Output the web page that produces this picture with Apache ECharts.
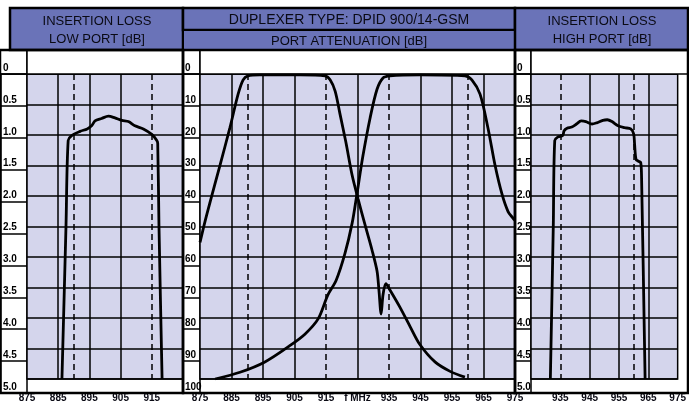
<!DOCTYPE html>
<html><head><meta charset="utf-8">
<script src="https://cdn.jsdelivr.net/npm/echarts@6/dist/echarts.min.js"></script>
<style>html,body{margin:0;padding:0;background:#fff}#c{width:689px;height:403px}</style>
</head><body><div id="c"></div>
<script>
// ---- data ----
const lowILFreq = [886.2, 887.5, 888.2, 889.3, 892.0, 894.3, 895.7, 896.8, 898.9, 901.1, 903.2, 905.4, 907.5, 909.6, 912.3, 915.0, 916.6, 916.9, 917.3, 918.3];
const lowILdB   = [5.0, 2.49, 1.09, 1.01, 0.94, 0.90, 0.85, 0.77, 0.73, 0.69, 0.72, 0.76, 0.78, 0.85, 0.90, 0.99, 1.09, 1.14, 2.49, 5.0];

const highILFreq = [931.6, 932.6, 933.1, 934.2, 935.8, 936.3, 937.3, 938.9, 940.5, 942.1, 943.7, 945.8, 947.4, 949.5, 951.0, 952.6, 954.7, 956.9, 959.0, 960.0, 960.3, 960.8, 961.6, 962.4, 962.7, 963.9];
const highILdB   = [5.0, 2.49, 1.09, 1.03, 1.01, 0.93, 0.89, 0.87, 0.82, 0.77, 0.78, 0.82, 0.80, 0.76, 0.75, 0.78, 0.85, 0.88, 0.90, 0.98, 1.14, 1.40, 1.43, 1.45, 1.71, 5.0];

const lowAttFreq = [875, 876.6, 878.2, 881.3, 884.5, 887.1, 888.7, 890.2, 894, 906.7, 914.7, 916.3, 917.9, 919.4, 921.3, 923.3, 925.2, 927.4, 929.6, 931.2, 931.8, 932.5, 933.1, 934.0, 935.3, 938.5, 941.7, 944.8, 949.6, 954.4, 959.1];
const lowAttdB   = [55.2, 48.3, 42, 30.1, 17.6, 6.6, 1.9, 0.6, 0.3, 0.3, 0.6, 1.9, 5.6, 12.9, 22.3, 33.2, 41, 49.5, 57.7, 64.6, 70.8, 78.7, 72.4, 68.7, 70.8, 76.5, 82.8, 88.7, 94.4, 97.5, 99.4];

const highAttFreq = [879.8, 887.7, 895.6, 903.6, 908.3, 912.5, 915.6, 918.2, 921.0, 923.3, 924.8, 926.7, 929.0, 931.2, 933.1, 935.3, 944.8, 959.1, 961.3, 963.9, 966.4, 968.7, 970.9, 972.8, 974.4, 975];
const highAttdB   = [100, 97.8, 94.4, 89, 85.3, 80.3, 72.4, 67.7, 58.9, 48.9, 39.5, 27, 14.4, 5, 1.3, 0.6, 0.3, 0.6, 1.9, 6.6, 17.6, 30.1, 39.5, 45.1, 47.3, 48];

// grid frequencies (solid) and band edges (dashed)
const gridLow = [885, 895, 905];
const edgesLow = [890, 915];
const gridMid = [885, 895, 905, 925, 945, 955, 965];
const edgesMid = [890, 915, 935, 960];
const gridHigh = [945, 955, 965];
const edgesHigh = [935, 960];

const headerLeft = ['INSERTION LOSS', 'LOW PORT [dB]'];
const headerMid = ['DUPLEXER TYPE: DPID 900/14-GSM', 'PORT ATTENUATION [dB]'];
const headerRight = ['INSERTION LOSS', 'HIGH PORT [dB]'];

// ---- chart ----
const HEADER = '#6a73b8', PLOT = '#d4d5ec', INK = '#0a0a14';
const zip = (a, b) => a.map((v, i) => [v, b[i]]);
const panels = [
  {L: 0, C: 27, R: 183, xmin: 875, xmax: 925, ymax: 5, step: 0.5, fmt: v => v === 0 ? '0' : v.toFixed(1),
   xfmt: v => v === 925 ? '' : String(v)},
  {L: 183, C: 200, R: 515, xmin: 875, xmax: 975, ymax: 100, step: 10, fmt: v => String(v),
   xfmt: v => v === 925 ? 'f MHz' : String(v)},
  {L: 515, C: 531, R: 688, xmin: 925, xmax: 975, ymax: 5, step: 0.5, fmt: v => v === 0 ? '0' : v.toFixed(1),
   xfmt: v => v === 925 ? '' : String(v)}
];
const TOP = 74, BOT = 393;
const grids = [], xAxes = [], yAxes = [];
panels.forEach(p => {
  grids.push({left: p.L, top: TOP, width: p.C - p.L, height: BOT - TOP, show: true, backgroundColor: '#fff', borderColor: '#000', borderWidth: 1.5});
  grids.push({left: p.C, top: TOP, width: p.R - p.C, height: BOT - TOP, show: true, backgroundColor: PLOT, borderColor: '#000', borderWidth: 1.5});
  const gi = grids.length - 2;
  xAxes.push({gridIndex: gi, type: 'value', min: 0, max: 1, show: false});
  xAxes.push({gridIndex: gi + 1, type: 'value', min: p.xmin, max: p.xmax, interval: 10,
    axisLine: {show: false}, axisTick: {show: false}, splitLine: {show: false},
    axisLabel: {fontSize: 10, fontWeight: 'bold', color: INK, margin: 14, fontFamily: 'Liberation Sans, Arial', formatter: p.xfmt}});
  const ycommon = {type: 'value', inverse: true, min: 0, max: p.ymax, interval: p.step,
    axisLine: {show: false}, axisTick: {show: false},
    splitLine: {show: true, lineStyle: {color: '#000', width: 1.5}}};
  yAxes.push(Object.assign({gridIndex: gi, z: 40, axisLabel: {inside: true, margin: 2, align: 'left', verticalAlign: 'bottom',
    fontSize: 10, fontWeight: 'bold', color: '#000', fontFamily: 'Liberation Sans, Arial', padding: [0, 0, 1, 0], formatter: p.fmt}}, ycommon));
  yAxes.push(Object.assign({gridIndex: gi + 1, axisLabel: {show: false}}, ycommon));
});

const mk = (grid, edges) => ({
  silent: true, symbol: 'none', label: {show: false},
  data: grid.map(v => ({xAxis: v, lineStyle: {color: '#000', width: 1.5, type: 'solid'}}))
    .concat(edges.map(v => ({xAxis: v, lineStyle: {color: '#000', width: 1.5, type: [6, 4]}})))
});
const curve = {type: 'line', symbol: 'none', smooth: 0.3, lineStyle: {color: '#000', width: 2.8}, z: 5};

const series = [
  Object.assign({}, curve, {xAxisIndex: 1, yAxisIndex: 1, data: zip(lowILFreq, lowILdB), markLine: mk(gridLow, edgesLow)}),
  Object.assign({}, curve, {xAxisIndex: 3, yAxisIndex: 3, data: zip(lowAttFreq, lowAttdB), markLine: mk(gridMid, edgesMid)}),
  Object.assign({}, curve, {xAxisIndex: 3, yAxisIndex: 3, data: zip(highAttFreq, highAttdB)}),
  Object.assign({}, curve, {xAxisIndex: 5, yAxisIndex: 5, data: zip(highILFreq, highILdB), markLine: mk(gridHigh, edgesHigh)})
];

const txt = (x, y, s, size) => ({type: 'text', x: x, y: y, z: 20, style: {text: s, fill: INK, font: '500 ' + size + 'px "Liberation Sans", Arial', textAlign: 'center', textVerticalAlign: 'middle'}});
const rect = (x, y, w, h, fill, lw, z) => ({type: 'rect', z: z, shape: {x: x, y: y, width: w, height: h}, style: {fill: fill, stroke: '#000', lineWidth: lw}});
const graphic = [
  rect(10, 8, 173, 42, HEADER, 2.5, 10),
  rect(183, 8, 332, 22, HEADER, 2.5, 10),
  rect(183, 30, 332, 20, HEADER, 2, 10),
  rect(515, 8, 173, 42, HEADER, 2.5, 10),
  txt(97, 21, headerLeft[0], 13), txt(97, 39, headerLeft[1], 13),
  txt(349, 20, headerMid[0], 14), txt(349, 41, headerMid[1], 13),
  txt(602, 21, headerRight[0], 13), txt(602, 39, headerRight[1], 13)
];
panels.forEach(p => {
  graphic.push(rect(p.L, 50, p.C - p.L, 24, '#fff', 1.5, 1));
  graphic.push(rect(p.C, 50, p.R - p.C, 24, '#fff', 1.5, 1));
  graphic.push(rect(p.L, 50, p.R - p.L, BOT - 50, 'none', 2.5, 30));
});

const chart = echarts.init(document.getElementById('c'), null, {renderer: 'canvas'});
chart.setOption({animation: false, grid: grids, xAxis: xAxes, yAxis: yAxes, series: series, graphic: graphic});
</script></body></html>
